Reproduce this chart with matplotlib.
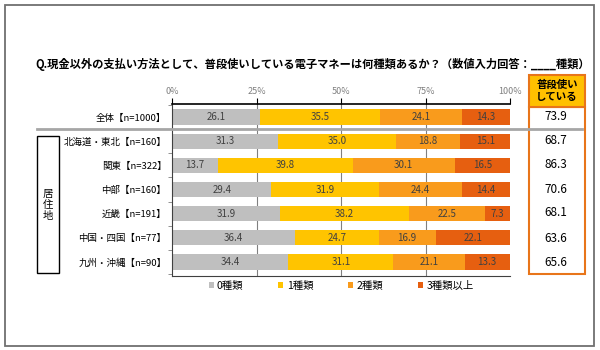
import numpy as np
import matplotlib.pyplot as plt
from matplotlib.patches import Rectangle
from matplotlib.lines import Line2D

plt.rcParams['font.family'] = ['Noto Sans CJK JP', 'DejaVu Sans']

# データ ---------------------------------------------------------------
categories = ['全体【n=1000】', '北海道・東北【n=160】', '関東【n=322】', '中部【n=160】',
              '近畿【n=191】', '中国・四国【n=77】', '九州・沖縄【n=90】']
zero_kinds = [26.1, 31.3, 13.7, 29.4, 31.9, 36.4, 34.4]
one_kind = [35.5, 35.0, 39.8, 31.9, 38.2, 24.7, 31.1]
two_kinds = [24.1, 18.8, 30.1, 24.4, 22.5, 16.9, 21.1]
three_plus = [14.3, 15.1, 16.5, 14.4, 7.3, 22.1, 13.3]
daily_use = ['73.9', '68.7', '86.3', '70.6', '68.1', '63.6', '65.6']
series_names = ['0種類', '1種類', '2種類', '3種類以上']
ticks = [0, 25, 50, 75, 100]
tick_labels = ['0%', '25%', '50%', '75%', '100%']

colors = ['#BFBFBF', '#FFC400', '#F99B1C', '#E65F10']
W, H = 600, 350


def fx(x):
    return x / W


def fy(y):
    return 1 - y / H


fig = plt.figure(figsize=(6, 3.5), dpi=100)

# 外枠
fig.patches.append(Rectangle((fx(5), fy(346)), fx(589), (341) / H, transform=fig.transFigure,
                             fill=False, edgecolor='#707070', lw=1.3))

ax = fig.add_axes([fx(172), fy(276), fx(338), 172 / H])
y = np.arange(len(categories))
left = np.zeros(len(categories))
for vals, c, name in zip([zero_kinds, one_kind, two_kinds, three_plus], colors, series_names):
    vals = np.array(vals)
    ax.barh(y, vals, left=left, height=0.63, color=c, label=name, zorder=2)
    for yi, (l, v) in enumerate(zip(left, vals)):
        ax.text(l + v / 2, yi, f'{v:.1f}', ha='center', va='center', fontsize=7, color='#404040', zorder=3)
    left += vals

ax.set_xlim(0, 100)
ax.set_ylim(6.58, -0.54)
ax.set_yticks(y)
ax.set_yticklabels(categories, fontsize=6.8)
ax.set_yticks(np.arange(-0.5, 7, 1), minor=True)
ax.tick_params(axis='y', which='major', length=0, pad=4)
ax.tick_params(axis='y', which='minor', length=3, color='#808080')
ax.xaxis.tick_top()
ax.set_xticks(ticks)
ax.set_xticklabels(tick_labels, fontsize=6.5, color='#808080')
ax.tick_params(axis='x', length=4, pad=2, color='black')
for t in [25, 50, 75]:
    ax.axvline(t, color='#808080', lw=0.8, zorder=1)
ax.spines['top'].set_color('black')
ax.spines['top'].set_linewidth(1.2)
ax.spines['left'].set_color('#404040')
ax.spines['bottom'].set_color('#404040')
ax.spines['right'].set_visible(False)

# 区切り線
fig.add_artist(Line2D([fx(37), fx(582)], [fy(128.5), fy(128.5)], color='#A6A6A6', lw=2,
                      transform=fig.transFigure))

# タイトル
fig.text(fx(35), fy(64), 'Q.現金以外の支払い方法として、普段使いしている電子マネーは何種類あるか？（数値入力回答：____種類）',
         fontsize=8.1, fontweight='bold', va='center', ha='left')

# 居住地ボックス
fig.patches.append(Rectangle((fx(37), fy(273)), fx(22), 137 / H, transform=fig.transFigure,
                             fill=False, edgecolor='black', lw=1))
fig.text(fx(48), fy(205), '居\n住\n地', fontsize=7.5, ha='center', va='center', linespacing=1.1)

# 右側の表
fig.patches.append(Rectangle((fx(529), fy(274)), fx(56), 167 / H, transform=fig.transFigure,
                             facecolor='white', edgecolor='#E8751A', lw=1.5))
fig.patches.append(Rectangle((fx(529), fy(107)), fx(56), 32 / H, transform=fig.transFigure,
                             facecolor='#FFC000', edgecolor='#E8751A', lw=1.5))
fig.text(fx(557), fy(91), '普段使い\nしている', fontsize=7.5, fontweight='bold', ha='center', va='center',
         linespacing=1.2)
for yi, v in zip([117, 141, 165, 190, 213, 238, 262], daily_use):
    fig.text(fx(556), fy(yi), v, fontsize=8.5, ha='center', va='center')

# 凡例
ax.legend(loc='center', bbox_to_anchor=(fx(341), fy(286)), bbox_transform=fig.transFigure,
          ncol=4, frameon=False, fontsize=7.5, handlelength=0.5, handleheight=0.5, handletextpad=0.3,
          columnspacing=3.35)

fig.savefig('out.png', dpi=100)
